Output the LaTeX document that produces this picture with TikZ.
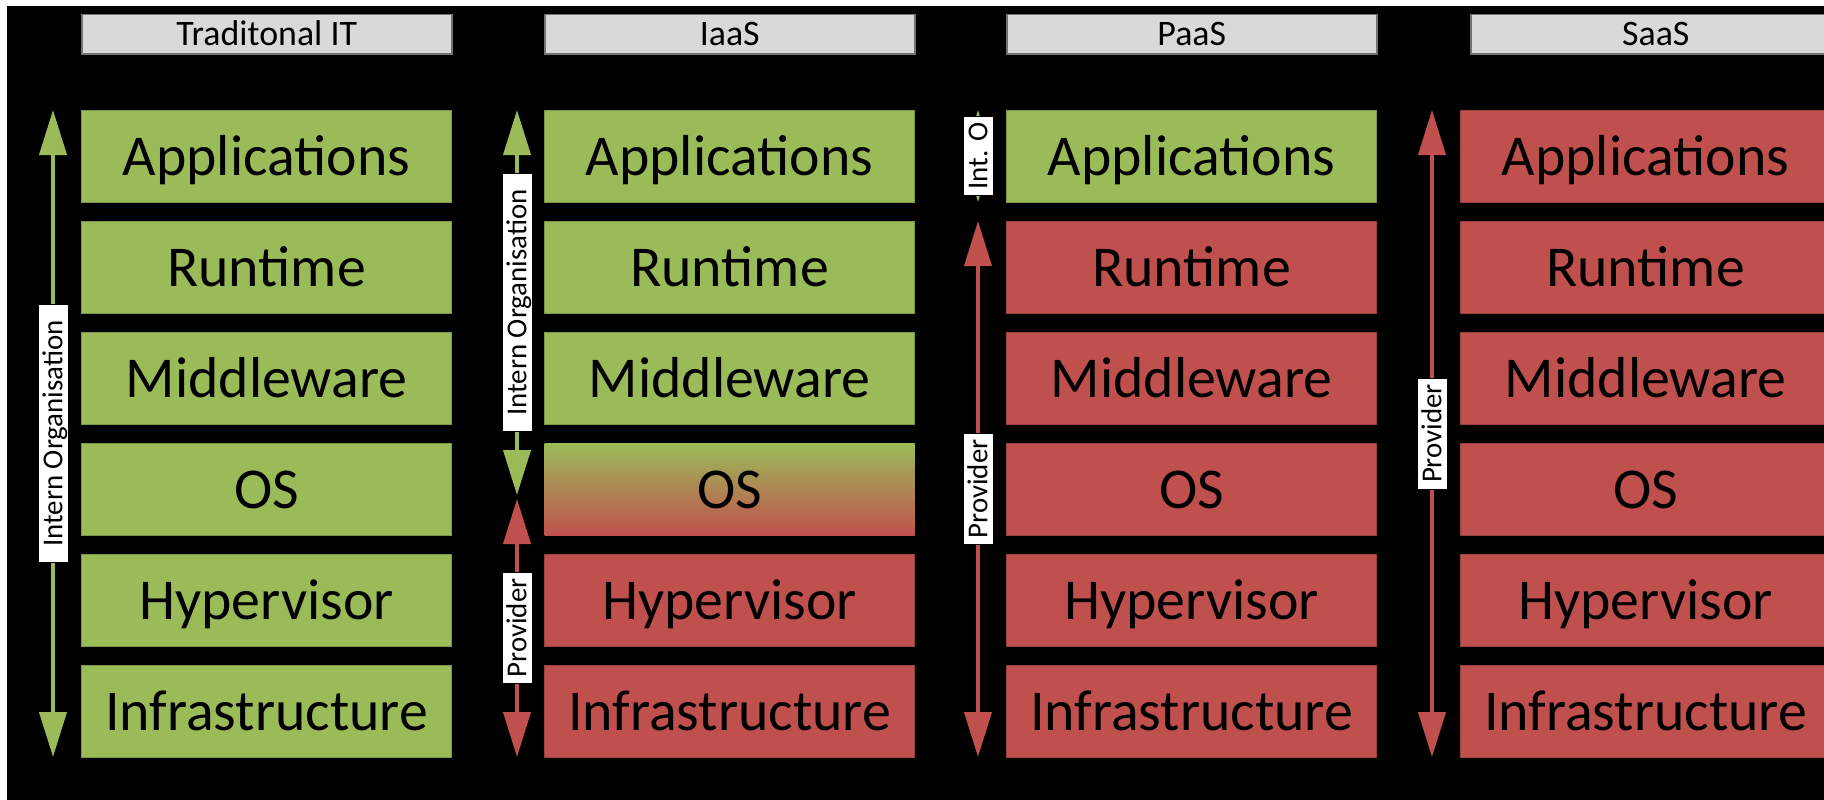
\documentclass[tikz,border=0pt]{standalone}
\usepackage{fontspec}
\setmainfont{Carlito}
\usetikzlibrary{arrows.meta}
\definecolor{ogreen}{RGB}{155,187,89}
\definecolor{ored}{RGB}{192,80,77}
\definecolor{otitle}{RGB}{217,217,217}
\begin{document}
\begin{tikzpicture}[x=1bp,y=-1bp,
  layer/.style={minimum width=370bp, minimum height=92bp, inner sep=0pt, anchor=north west,
    font=\fontsize{58}{60}\selectfont, text height=37.4bp, text depth=0pt, line width=1bp},
  gbox/.style={layer, fill=ogreen, draw=ogreen!80!black},
  rbox/.style={layer, fill=ored, draw=ored!80!black},
  mixbox/.style={layer, top color=ogreen, bottom color=ored, draw=none},
  titlebar/.style={minimum width=370bp, minimum height=39bp, inner sep=0pt, anchor=north west,
    fill=otitle, draw=black!55, line width=1.5bp, font=\fontsize{36}{38}\selectfont,
    text height=23.2bp, text depth=0pt},
  lab/.style={fill=white, draw=black, line width=0.8bp, rotate=90, inner xsep=6bp, inner ysep=0pt,
    minimum height=30bp, font=\fontsize{29}{30}\selectfont, text height=18.7bp, text depth=0pt},
  tip/.style={Triangle[length=45bp,width=27bp]},
  garrow/.style={draw=ogreen, line width=4bp, {Triangle[length=45bp,width=27bp]}-{Triangle[length=45bp,width=27bp]}},
  rarrow/.style={draw=ored, line width=4bp, {Triangle[length=45bp,width=27bp]}-{Triangle[length=45bp,width=27bp]}}
]
\useasboundingbox (0,0) rectangle (1824,800);
\clip (0,0) rectangle (1824,800);
\fill[white] (0,0) rectangle (1824,800);
\fill[black] (7,6) rectangle (1824,800);

% titles
\node[titlebar] (t1) at (81,14) {Traditonal IT};
\node[titlebar] (t2) at (544,14) {IaaS};
\node[titlebar] (t3) at (1006,14) {PaaS};
\node[titlebar] (t4) at (1470,14) {SaaS};

% Traditional IT
\node[gbox] (a1) at (81,110) {Applications};
\node[gbox] (b1) at (81,221) {Runtime};
\node[gbox] (c1) at (81,332) {Middleware};
\node[gbox] (d1) at (81,443) {OS};
\node[gbox] (e1) at (81,554) {Hypervisor};
\node[gbox] (f1) at (81,665) {Infrastructure};

% IaaS
\node[gbox] (a2) at (544,110) {Applications};
\node[gbox] (b2) at (544,221) {Runtime};
\node[gbox] (c2) at (544,332) {Middleware};
\node[mixbox] (d2) at (544,443) {OS};
\node[rbox] (e2) at (544,554) {Hypervisor};
\node[rbox] (f2) at (544,665) {Infrastructure};

% PaaS
\node[gbox] (a3) at (1006,110) {Applications};
\node[rbox] (b3) at (1006,221) {Runtime};
\node[rbox] (c3) at (1006,332) {Middleware};
\node[rbox] (d3) at (1006,443) {OS};
\node[rbox] (e3) at (1006,554) {Hypervisor};
\node[rbox] (f3) at (1006,665) {Infrastructure};

% SaaS
\node[rbox] (a4) at (1460,110) {Applications};
\node[rbox] (b4) at (1460,221) {Runtime};
\node[rbox] (c4) at (1460,332) {Middleware};
\node[rbox] (d4) at (1460,443) {OS};
\node[rbox] (e4) at (1460,554) {Hypervisor};
\node[rbox] (f4) at (1460,665) {Infrastructure};

% arrow end points
\coordinate (g1t) at (53,110);   \coordinate (g1b) at (53,757);
\coordinate (g2t) at (517,110);  \coordinate (g2b) at (517,495);
\coordinate (r2t) at (517,499);  \coordinate (r2b) at (517,757);
\coordinate (g3t) at (978,110);  \coordinate (g3b) at (978,202);
\coordinate (r3t) at (978,221);  \coordinate (r3b) at (978,757);
\coordinate (r4t) at (1432,110); \coordinate (r4b) at (1432,757);

\draw[garrow] (g1t) -- node[lab, minimum width=258bp] (l1) {Intern Organisation} (g1b);
\draw[garrow] (g2t) -- node[lab, minimum width=258bp] (l2) {Intern Organisation} (g2b);
\draw[rarrow] (r2t) -- node[lab] (l3) {Provider} (r2b);
\draw[garrow] (g3t) -- node[lab] (l4) {Int. O} (g3b);
\draw[rarrow] (r3t) -- node[lab] (l5) {Provider} (r3b);
\draw[rarrow] (r4t) -- node[lab] (l6) {Provider} (r4b);
\end{tikzpicture}
\end{document}
